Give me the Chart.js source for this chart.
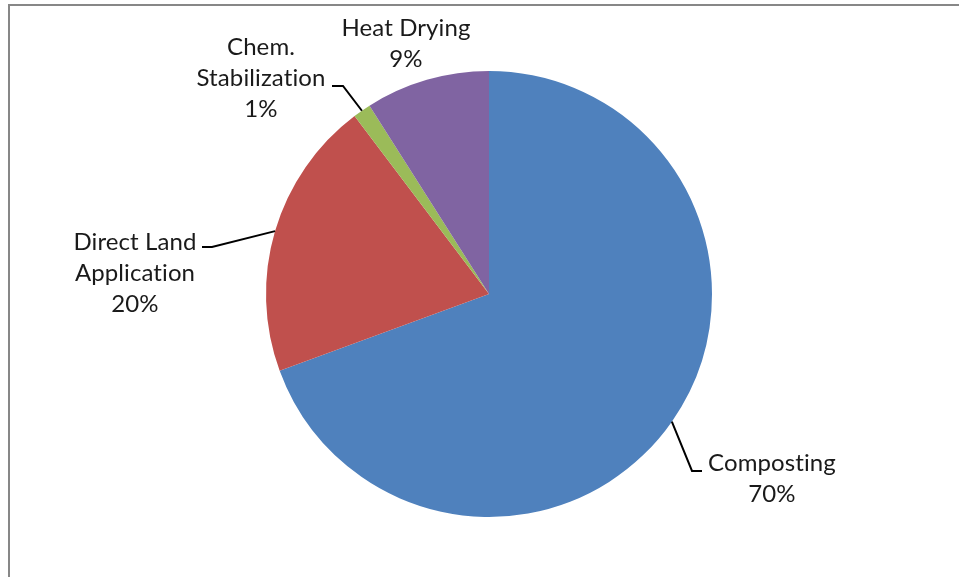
<!DOCTYPE html>
<html>
<head>
<meta charset="utf-8">
<script src="https://cdn.jsdelivr.net/npm/chart.js@4"></script>
<style>
  html, body { margin: 0; padding: 0; background: #ffffff; }
  #wrap { position: relative; width: 959px; height: 577px; }
</style>
</head>
<body>
<div id="wrap"><canvas id="c"></canvas></div>
<script>
// ---- data ----
const categories = ['Composting', 'Direct Land Application', 'Chem. Stabilization', 'Heat Drying'];
const shares = [69.4, 20.3, 1.3, 9.0];
const percentLabels = ['70%', '20%', '1%', '9%'];
const sliceColors = ['#4F81BD', '#C0504D', '#9BBB59', '#8064A2'];

// ---- label layout (presentation only) ----
const labelLines = [
  ['Composting', '70%'],
  ['Direct Land', 'Application', '20%'],
  ['Chem.', 'Stabilization', '1%'],
  ['Heat Drying', '9%']
];
const labelLayout = [
  { cx: 772, top: 463, leader: { elbow: [692, 471], end: [702, 471] } },
  { cx: 135, top: 242, leader: { elbow: [212, 247], end: [202, 247] } },
  { cx: 261, top: 47,  leader: { elbow: [343, 86],  end: [332, 86] } },
  { cx: 406, top: 28,  leader: null }
];
const LINE_H = 31;
const FONT = '24px Lato, Carlito, Calibri, "Open Sans", sans-serif';

const labelPlugin = {
  id: 'excelLabels',
  afterDraw(chart) {
    const ctx = chart.ctx;
    ctx.save();
    // outer frame
    ctx.strokeStyle = '#878787';
    ctx.lineWidth = 2;
    ctx.beginPath();
    ctx.moveTo(9, chart.height);
    ctx.lineTo(9, 5);
    ctx.lineTo(chart.width, 5);
    ctx.stroke();

    const meta = chart.getDatasetMeta(0);
    meta.data.forEach((arc, i) => {
      const lay = labelLayout[i];
      if (lay.leader) {
        const mid = (arc.startAngle + arc.endAngle) / 2;
        const sx = arc.x + Math.cos(mid) * arc.outerRadius;
        const sy = arc.y + Math.sin(mid) * arc.outerRadius;
        ctx.strokeStyle = '#000000';
        ctx.lineWidth = 2;
        ctx.beginPath();
        ctx.moveTo(sx, sy);
        ctx.lineTo(lay.leader.elbow[0], lay.leader.elbow[1]);
        ctx.lineTo(lay.leader.end[0], lay.leader.end[1]);
        ctx.stroke();
      }
      ctx.fillStyle = '#1a1a1a';
      ctx.font = FONT;
      if ('letterSpacing' in ctx) ctx.letterSpacing = '0.1px';
      ctx.textAlign = 'center';
      ctx.textBaseline = 'middle';
      const lines = labelLines[i].slice(0, -1).concat([percentLabels[i]]);
      lines.forEach((t, k) => {
        ctx.fillText(t, lay.cx, lay.top + k * LINE_H);
      });
    });
    ctx.restore();
  }
};

new Chart(document.getElementById('c'), {
  type: 'pie',
  data: {
    labels: categories,
    datasets: [{
      data: shares,
      backgroundColor: sliceColors,
      borderWidth: 0
    }]
  },
  options: {
    responsive: true,
    maintainAspectRatio: false,
    animation: false,
    layout: { padding: { left: 266, right: 247, top: 71, bottom: 60 } },
    plugins: {
      legend: { display: false },
      tooltip: { enabled: false }
    }
  },
  plugins: [labelPlugin]
});
</script>
</body>
</html>
